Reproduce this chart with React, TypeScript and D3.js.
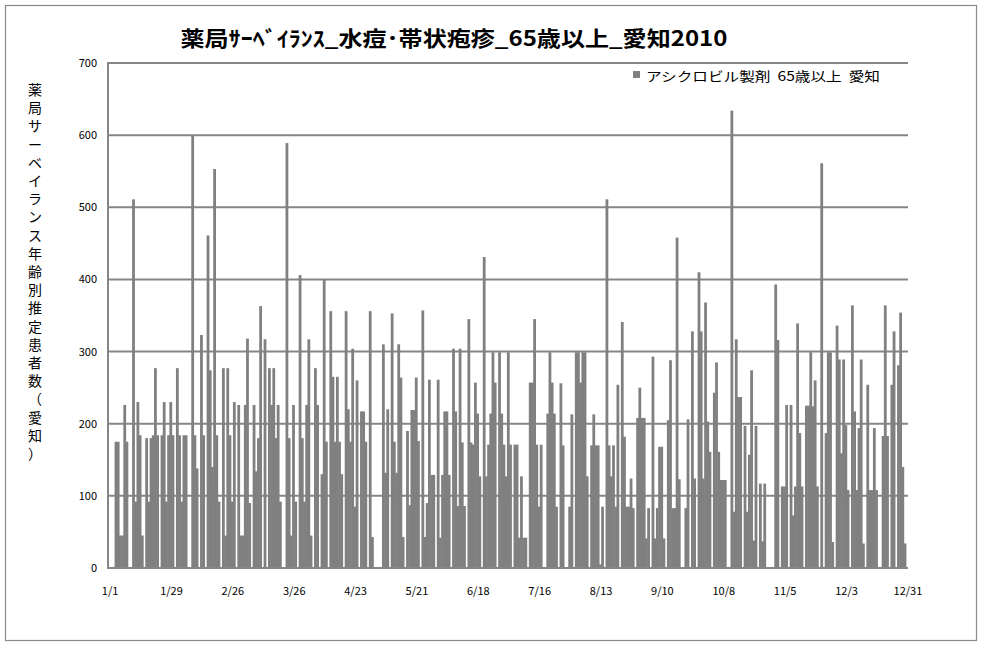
import React from "react";
import * as d3 from "d3";

// Daily values, 2010
const jan = [0,0,0,175,175,45,45,226,175,0, 0,511,92,230,184,45,0,180,92,180, 184,277,184,0,184,230,92,184,230,184, 0];
const feb = [277,184,92,184,184,0,0,600,184, 138,0,323,184,0,461,274,140,553,184, 92,0,277,45,277,184,92,230,0];
const mar = [226, 45,45,226,318,90,0,226,134,180,363, 0,317,0,277,226,277,180,226,92,0, 0,589,180,45,226,92,0,406,180,92];
const apr = [226,317,45,0,277,226,0,130,400,175, 0,356,265,175,265,175,130,0,356,220, 175,304,85,260,0,217,217,175,0,356];
const may = [43,0,0,0,0,310,132,220,0,353, 175,132,310,264,43,0,190,87,219,219, 264,176,0,357,43,90,261,129,129,0, 261];
const jun = [42,129,217,217,129,0,304,217,86, 304,174,86,0,345,174,171,257,214,127, 0,431,127,171,214,299,257,0,299,214, 171];
const jul = [127,299,171,0,171,171,42,127,42, 42,0,257,257,345,171,85,171,0,0, 214,299,257,214,85,0,256,170,0,0, 85,213];
const aug = [0,299,299,257,299,299,127,0, 170,213,170,170,5,85,0,511,170,127, 170,85,254,0,341,182,85,85,124,83, 0,208,250];
const sep = [208,208,41,83,0,293,41, 83,168,168,41,0,205,288,83,83,458, 123,0,0,83,206,0,328,124,0,410, 328,124,368];
const oct = [203,161,0,243,285,161,122, 122,122,0,0,634,78,317,237,237,0, 197,78,157,274,38,197,0,117,37,117, 0,0,0,0];
const nov = [393,316,0,113,113,226, 0,226,73,113,339,187,113,0,225,225, 299,224,260,113,0,561,0,187,299,299, 36,0,336,289];
const dec = [159,289,198,108,0,364, 217,108,194,289,34,0,254,108,108,194, 108,0,0,183,364,183,0,254,328,0, 281,354,140,34,0];

const values: number[] = [...jan, ...feb, ...mar, ...apr, ...may, ...jun, ...jul, ...aug, ...sep, ...oct, ...nov, ...dec];
const days = d3.timeDay.range(new Date(2010, 0, 1), new Date(2011, 0, 1));
const fmt = (d: Date) => `${d.getMonth() + 1}/${d.getDate()}`;
const categories = days.map(fmt);
const xTickLabels = ["1/1","1/29","2/26","3/26","4/23","5/21","6/18","7/16","8/13","9/10","10/8","11/5","12/3","12/31"];
const yTicks = [0,100,200,300,400,500,600,700];

const title = "薬局ｻｰﾍﾞｲﾗﾝｽ_水痘･帯状疱疹_65歳以上_愛知2010";
const seriesName = "アシクロビル製剤  65歳以上  愛知";
const yAxisTitle = "薬局サーベイランス年齢別推定患者数（愛知）";

const W = 982, H = 646;
const L = 108, R = 908, T = 63, B = 568;
const GRID = "#868686";
const BAR = "#808080";
const FONT = "'Noto Sans CJK JP', 'Noto Sans', sans-serif";

export default function App() {
  const x = d3.scaleBand<string>().domain(categories).range([L, R]).paddingInner(0).paddingOuter(0);
  const y = d3.scaleLinear().domain([0, 700]).range([B, T]);
  const bw = x.bandwidth();
  const yChars = Array.from(yAxisTitle);
  return (
    <svg width={W} height={H} style={{ position: "absolute", left: 0, top: 0, background: "#fff" }}>
      <rect x={5.5} y={5.5} width={971} height={635} fill="#fff" stroke="#8a8a8a" strokeWidth={1.2} />
      <text x={454} y={46} textAnchor="middle" fontFamily={FONT} fontWeight="bold" fontSize={21}
        textLength={547} lengthAdjust="spacingAndGlyphs" fill="#000">{title}</text>
      {/* gridlines */}
      {yTicks.filter(t => t > 0).map(t => (
        <line key={t} x1={L} x2={R} y1={y(t)} y2={y(t)} stroke={GRID} strokeWidth={2} />
      ))}
      {/* bars */}
      {values.map((v, i) => v > 0 ? (
        <rect key={i} x={x(categories[i])!} y={y(v)} width={bw + 0.6} height={B - y(v)} fill={BAR} />
      ) : null)}
      {/* axes */}
      <line x1={L} x2={L} y1={T - 1} y2={B + 1} stroke={GRID} strokeWidth={2} />
      <line x1={L} x2={R} y1={B} y2={B} stroke={GRID} strokeWidth={2} />
      {yTicks.map(t => (
        <text key={t} x={97} y={y(t) + 4} textAnchor="end" fontFamily={FONT} fontSize={11} fill="#000">{t}</text>
      ))}
      {xTickLabels.map((lab, i) => {
        const cx = x(lab)! + bw / 2;
        return (
          <text key={lab + i} x={cx + 1} y={595} textAnchor="middle" fontFamily={FONT} fontSize={11} fill="#000">{lab}</text>
        );
      })}
      {/* legend */}
      <rect x={633} y={71} width={7} height={7} fill={BAR} />
      <text x={646} y={81} fontFamily={FONT} fontSize={13} fill="#000" textLength={234} lengthAdjust="spacingAndGlyphs" style={{ whiteSpace: "pre" }}>{seriesName}</text>
      {/* y axis title, stacked */}
      {yChars.map((c, i) => (
        <text key={i} x={35} y={95 + i * 18.2} textAnchor="middle" fontFamily={FONT} fontSize={14} fill="#000">{c}</text>
      ))}
    </svg>
  );
}
